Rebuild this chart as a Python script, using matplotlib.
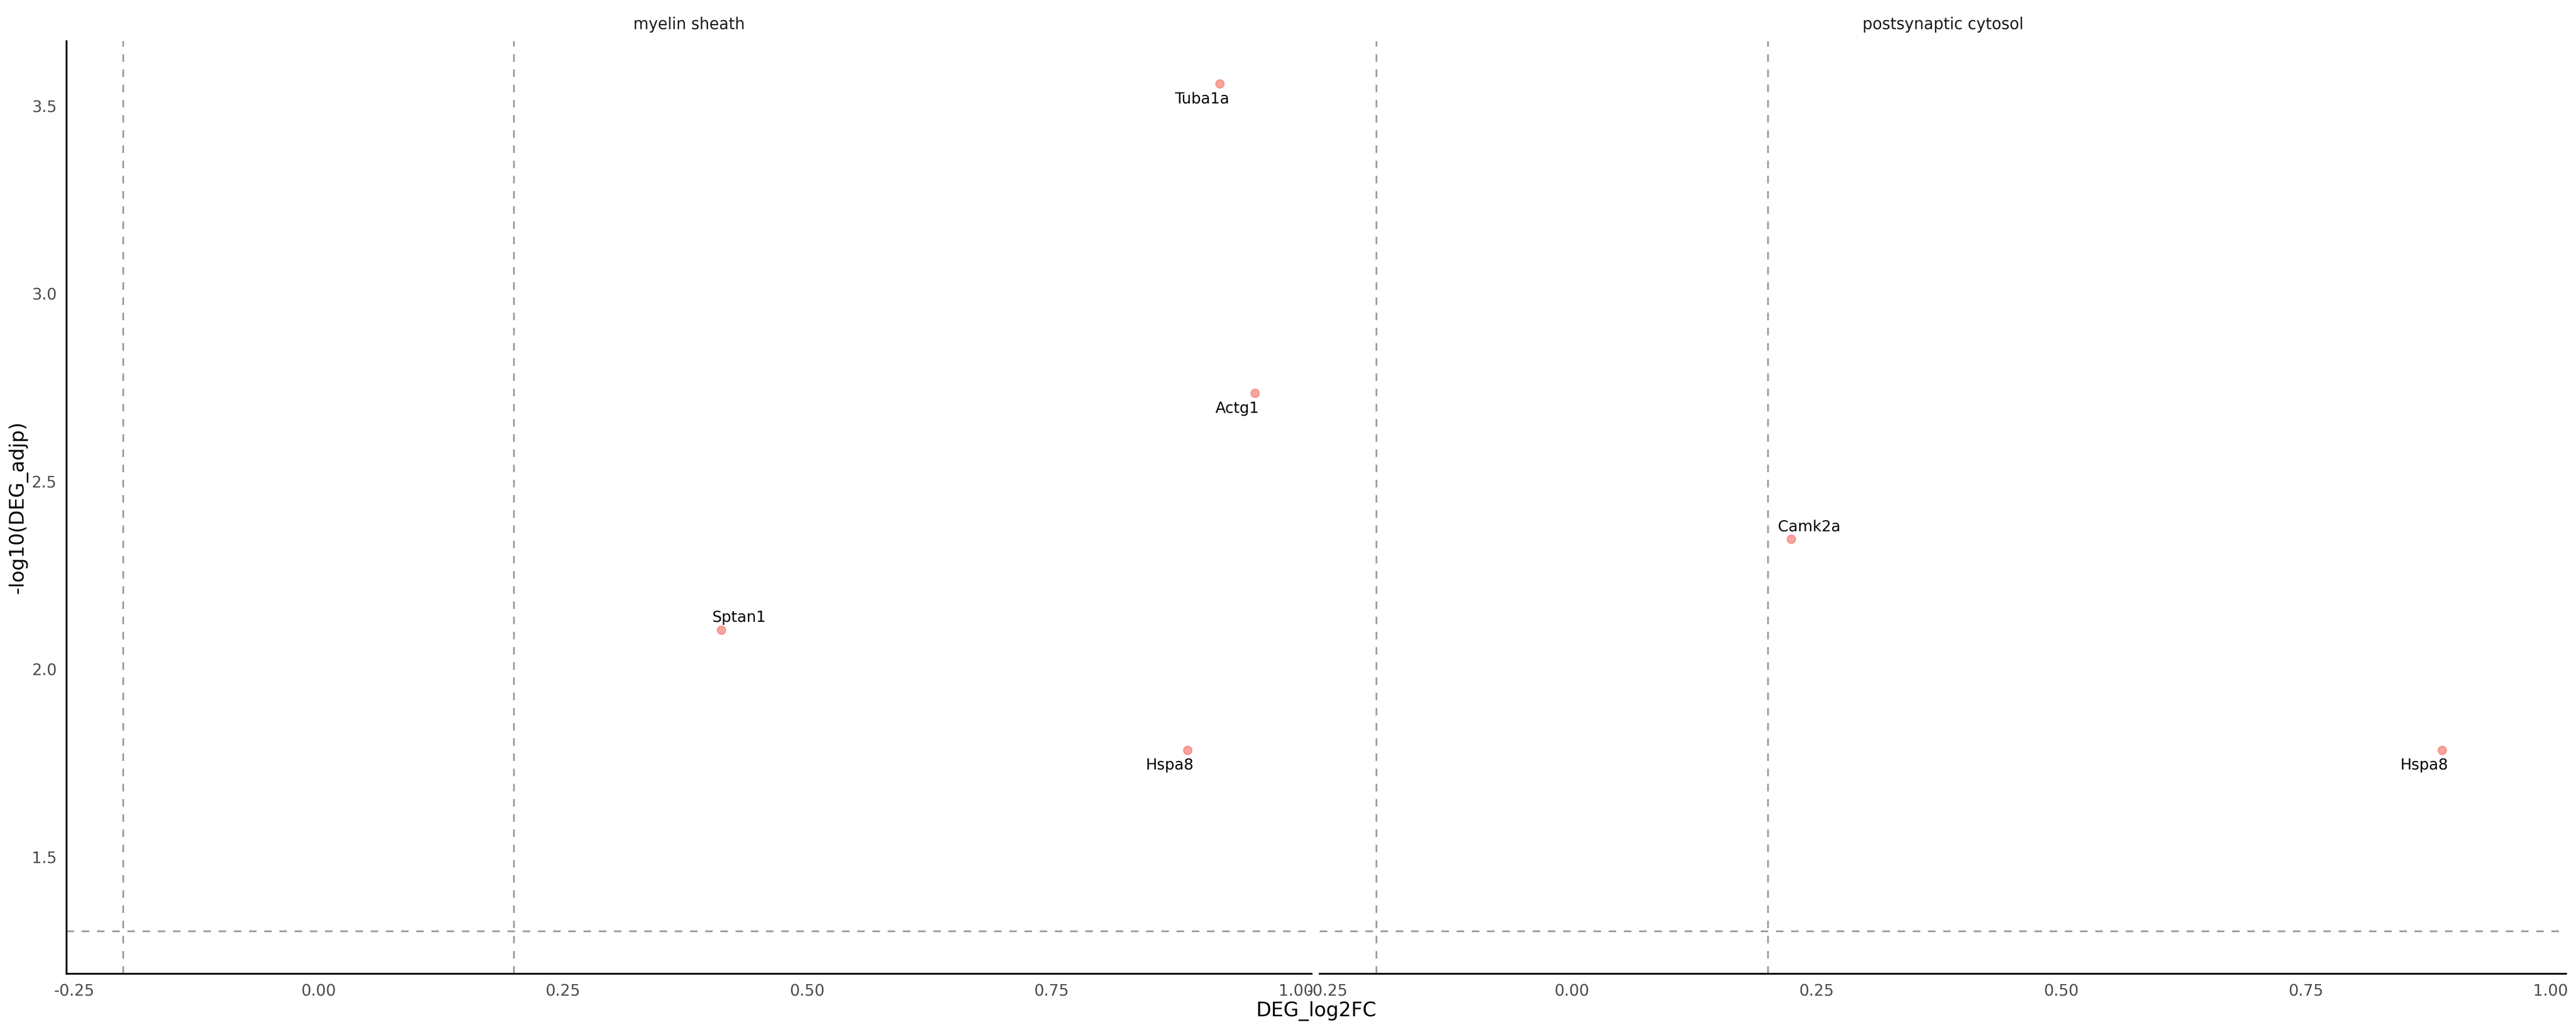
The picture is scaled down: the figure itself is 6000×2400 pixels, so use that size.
import matplotlib

matplotlib.use("Agg")
import matplotlib.pyplot as plt
from matplotlib.ticker import FixedLocator, FormatStrFormatter
import numpy as np

plt.rcParams["font.family"] = ["DejaVu Sans"]
plt.rcParams["axes.unicode_minus"] = False
plt.rcParams["lines.scale_dashes"] = False

# ---- data ----
PANELS = ["myelin sheath", "postsynaptic cytosol"]
GENE = ["Tuba1a", "Actg1", "Sptan1", "Hspa8", "Camk2a", "Hspa8"]
TERM = ["myelin sheath", "myelin sheath", "myelin sheath", "myelin sheath",
        "postsynaptic cytosol", "postsynaptic cytosol"]
DEG_LOG2FC = [0.922, 0.958, 0.412, 0.889, 0.224, 0.889]
NEG_LOG10_ADJP = [3.560, 2.735, 2.104, 1.784, 2.346, 1.784]
FC_CUTOFF = [-0.2, 0.2]
P_CUTOFF = 0.05
X_TICKS = [-0.25, 0.0, 0.25, 0.5, 0.75, 1.0]
Y_TICKS = [1.5, 2.0, 2.5, 3.0, 3.5]

# where the repelled label ended up relative to its point
LABEL_SIDE = ["below", "below", "above", "below", "above", "below"]

POINT_FACE, POINT_EDGE = "#F9A59F", "#F6918A"
DASH_GREY = "#9C9C9C"
TICK_GREY = "#4D4D4D"


def expand(lo, hi, mult=0.05):
    pad = (hi - lo) * mult
    return lo - pad, hi + pad


def main():
    x = np.array(DEG_LOG2FC)
    y = np.array(NEG_LOG10_ADJP)
    hline = -np.log10(P_CUTOFF)
    xlim = expand(min(x.min(), min(FC_CUTOFF)), max(x.max(), max(FC_CUTOFF)))
    ylim = expand(min(y.min(), hline), max(y.max(), hline))

    W, H = 6000, 2400
    fig = plt.figure(figsize=(20, 8), dpi=300)
    bottom, top = 1 - 2269 / H, 1 - 96 / H
    ax1 = fig.add_axes([155 / W, bottom, (3055 - 155) / W, top - bottom])
    ax2 = fig.add_axes([3074 / W, bottom, (5977 - 3074) / W, top - bottom], sharey=ax1)
    dash = (0, (4.2, 4.3))

    for ax, panel in zip([ax1, ax2], PANELS):
        for v in FC_CUTOFF:
            ax.axvline(v, color=DASH_GREY, lw=0.95, ls=dash, zorder=1)
        ax.axhline(hline, color=DASH_GREY, lw=0.95, ls=dash, zorder=1)

        idx = [i for i, t in enumerate(TERM) if t == panel]
        ax.scatter(x[idx], y[idx], s=20, facecolor=POINT_FACE, edgecolor=POINT_EDGE,
                   linewidth=0.7, zorder=3)
        for i in idx:
            if LABEL_SIDE[i] == "below":
                ax.annotate(GENE[i], (x[i], y[i]), xytext=(-10, -4.4),
                            textcoords="offset points", ha="center", va="top",
                            fontsize=8.5, color="black", zorder=4)
            else:
                ax.annotate(GENE[i], (x[i], y[i]), xytext=(10, 4.6),
                            textcoords="offset points", ha="center", va="baseline",
                            fontsize=8.5, color="black", zorder=4)

        ax.annotate(panel, (0.5, 1.0), xycoords="axes fraction", xytext=(0, 9.2),
                    textcoords="offset points", ha="center", va="center",
                    fontsize=8.8, color="#1A1A1A")

        ax.set_xlim(*xlim)
        ax.set_ylim(*ylim)
        ax.xaxis.set_major_locator(FixedLocator(X_TICKS))
        ax.xaxis.set_major_formatter(FormatStrFormatter("%.2f"))
        ax.tick_params(axis="both", length=0, pad=5.5, labelsize=8.8, labelcolor=TICK_GREY)
        for side in ["top", "right"]:
            ax.spines[side].set_visible(False)
        ax.spines["bottom"].set_linewidth(1.0)
        ax.spines["left"].set_linewidth(1.0)
        ax.set_facecolor("white")

    ax1.yaxis.set_major_locator(FixedLocator(Y_TICKS))
    ax1.yaxis.set_major_formatter(FormatStrFormatter("%.1f"))
    ax2.spines["left"].set_visible(False)
    ax2.tick_params(axis="y", labelleft=False)

    fig.text(3066 / W, 1 - 2368 / H, "DEG_log2FC", ha="center", va="baseline",
             fontsize=11, color="black")
    fig.text(42 / W, 1 - 1182 / H, "-log10(DEG_adjp)", ha="center", va="center",
             rotation=90, fontsize=11, color="black")

    fig.savefig("out.png", dpi=300, facecolor="white")


if __name__ == "__main__":
    main()
